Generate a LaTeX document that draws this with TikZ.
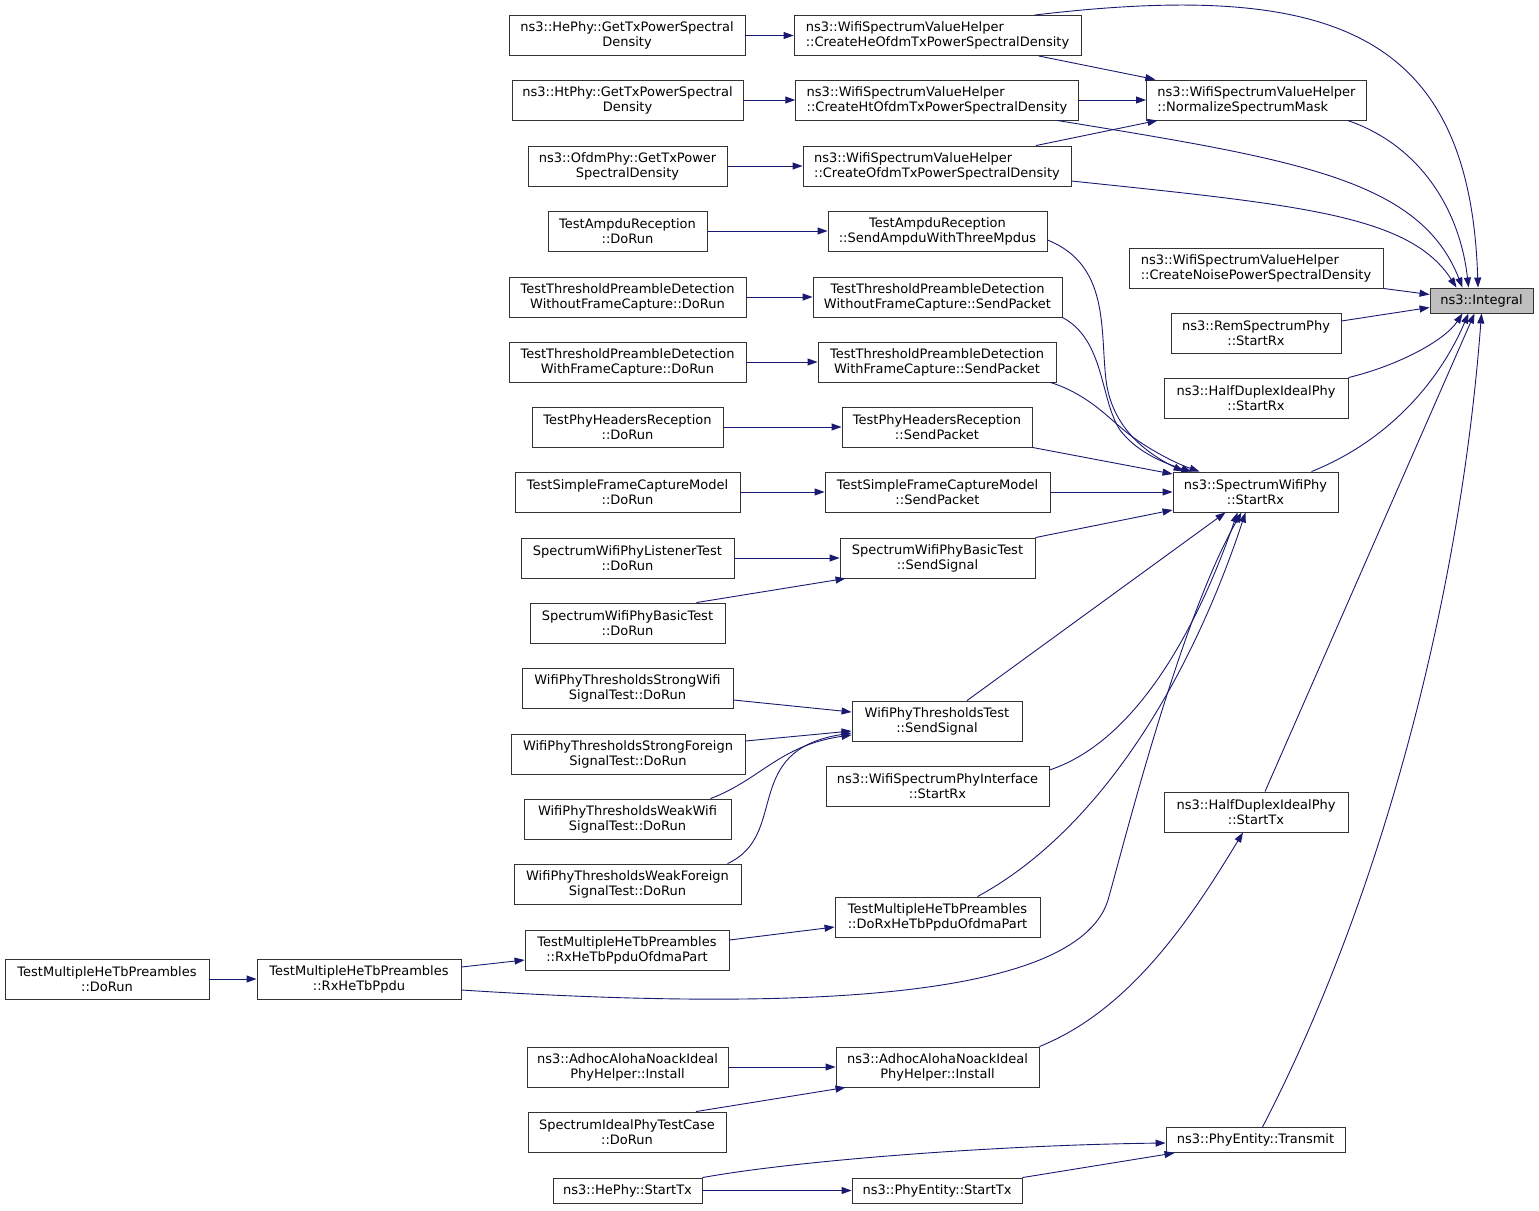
\documentclass[tikz,border=0pt]{standalone}
\usepackage{fontspec}
\setmainfont{DejaVu Sans}
\usetikzlibrary{arrows.meta}
\definecolor{callblue}{HTML}{191970}
\tikzstyle{fnbox} = [draw=black!80, fill=white, line width=0.9pt, rectangle,
    align=center, inner xsep=4pt, inner ysep=2pt, minimum height=40pt,
    font=\fontsize{13}{15}\selectfont]
\tikzstyle{fnboxl} = [fnbox, align=left, inner xsep=11pt]
\tikzstyle{fnone} = [fnbox, minimum height=25pt]
\tikzstyle{rootbox} = [fnone, fill=black!25]
\tikzstyle{call} = [callblue, line width=0.9pt, -{Triangle[length=10pt,width=7pt]}]

\begin{document}
\begin{tikzpicture}[x=1pt, y=1pt]
\useasboundingbox (0,0) rectangle (1539,-1210);
% callee
\node[rootbox, minimum width=103pt] (integral) at (1481.5,-300.5) {ns3::Integral};
% direct callers
\node[fnboxl, minimum width=219pt] (norm) at (1256.5,-100) {ns3::WifiSpectrumValueHelper\\::NormalizeSpectrumMask};
\node[fnboxl, minimum width=254pt] (noise) at (1256,-268) {ns3::WifiSpectrumValueHelper\\::CreateNoisePowerSpectralDensity};
\node[fnbox, minimum width=170pt] (remRx) at (1256,-333) {ns3::RemSpectrumPhy\\::StartRx};
\node[fnbox, minimum width=184pt] (hdipRx) at (1256,-398) {ns3::HalfDuplexIdealPhy\\::StartRx};
\node[fnbox, minimum width=165pt] (swpRx) at (1255.5,-492) {ns3::SpectrumWifiPhy\\::StartRx};
\node[fnbox, minimum width=184pt] (hdipTx) at (1256,-812) {ns3::HalfDuplexIdealPhy\\::StartTx};
\node[fnone, minimum width=179pt] (peTransmit) at (1255.5,-1140) {ns3::PhyEntity::Transmit};
% second level
\node[fnboxl, minimum width=287pt] (cheo) at (937.5,-35.5) {ns3::WifiSpectrumValueHelper\\::CreateHeOfdmTxPowerSpectralDensity};
\node[fnboxl, minimum width=282pt] (chto) at (937,-100) {ns3::WifiSpectrumValueHelper\\::CreateHtOfdmTxPowerSpectralDensity};
\node[fnboxl, minimum width=268pt] (cofdm) at (937,-166) {ns3::WifiSpectrumValueHelper\\::CreateOfdmTxPowerSpectralDensity};
\node[fnbox, minimum width=219pt] (tarSend) at (937.5,-231) {TestAmpduReception\\::SendAmpduWithThreeMpdus};
\node[fnbox, minimum width=249pt] (tpdWoSend) at (937.5,-297) {TestThresholdPreambleDetection\\WithoutFrameCapture::SendPacket};
\node[fnbox, minimum width=238pt] (tpdWSend) at (937,-362) {TestThresholdPreambleDetection\\WithFrameCapture::SendPacket};
\node[fnbox, minimum width=190pt] (thrSend) at (937,-427) {TestPhyHeadersReception\\::SendPacket};
\node[fnbox, minimum width=225pt] (tsfcSend) at (937.5,-492) {TestSimpleFrameCaptureModel\\::SendPacket};
\node[fnbox, minimum width=195pt] (swpbSend) at (937.5,-558) {SpectrumWifiPhyBasicTest\\::SendSignal};
\node[fnbox, minimum width=170pt] (wptSend) at (937,-721) {WifiPhyThresholdsTest\\::SendSignal};
\node[fnbox, minimum width=223pt] (wspiRx) at (937.5,-786) {ns3::WifiSpectrumPhyInterface\\::StartRx};
\node[fnbox, minimum width=205pt] (tmhpDoRxOfdma) at (937.5,-917) {TestMultipleHeTbPreambles\\::DoRxHeTbPpduOfdmaPart};
\node[fnbox, minimum width=203pt] (adhocB) at (937.5,-1067) {ns3::AdhocAlohaNoackIdeal\\PhyHelper::Install};
\node[fnone, minimum width=170pt] (peStartTx) at (937,-1190.5) {ns3::PhyEntity::StartTx};
% third level
\node[fnbox, minimum width=236pt] (hephyGtx) at (627,-35.5) {ns3::HePhy::GetTxPowerSpectral\\Density};
\node[fnbox, minimum width=231pt] (htphyGtx) at (627.5,-100) {ns3::HtPhy::GetTxPowerSpectral\\Density};
\node[fnbox, minimum width=199pt] (ofdmGtx) at (627.5,-166) {ns3::OfdmPhy::GetTxPower\\SpectralDensity};
\node[fnbox, minimum width=159pt] (tarDoRun) at (627.5,-231) {TestAmpduReception\\::DoRun};
\node[fnbox, minimum width=237pt] (tpdWoDoRun) at (627.5,-297) {TestThresholdPreambleDetection\\WithoutFrameCapture::DoRun};
\node[fnbox, minimum width=237pt] (tpdWDoRun) at (627.5,-362) {TestThresholdPreambleDetection\\WithFrameCapture::DoRun};
\node[fnbox, minimum width=191pt] (thrDoRun) at (627.5,-427) {TestPhyHeadersReception\\::DoRun};
\node[fnbox, minimum width=225pt] (tsfcDoRun) at (627.5,-492) {TestSimpleFrameCaptureModel\\::DoRun};
\node[fnbox, minimum width=213pt] (swplDoRun) at (627.5,-558) {SpectrumWifiPhyListenerTest\\::DoRun};
\node[fnbox, minimum width=195pt] (swpbDoRun) at (627.5,-623) {SpectrumWifiPhyBasicTest\\::DoRun};
\node[fnbox, minimum width=211pt] (wptSw) at (627.5,-688) {WifiPhyThresholdsStrongWifi\\SignalTest::DoRun};
\node[fnbox, minimum width=234pt] (wptSf) at (628,-754) {WifiPhyThresholdsStrongForeign\\SignalTest::DoRun};
\node[fnbox, minimum width=207pt] (wptWw) at (627.5,-819) {WifiPhyThresholdsWeakWifi\\SignalTest::DoRun};
\node[fnbox, minimum width=227pt] (wptWf) at (627.5,-884) {WifiPhyThresholdsWeakForeign\\SignalTest::DoRun};
\node[fnbox, minimum width=204pt] (tmhpRxOfdma) at (627,-950) {TestMultipleHeTbPreambles\\::RxHeTbPpduOfdmaPart};
\node[fnbox, minimum width=201pt] (adhocA) at (627.5,-1067) {ns3::AdhocAlohaNoackIdeal\\PhyHelper::Install};
\node[fnbox, minimum width=198pt] (siptDoRun) at (627,-1132) {SpectrumIdealPhyTestCase\\::DoRun};
\node[fnone, minimum width=149pt] (hephyStartTx) at (627.5,-1190.5) {ns3::HePhy::StartTx};
% far left
\node[fnbox, minimum width=204pt] (tmhpRx) at (359,-979) {TestMultipleHeTbPreambles\\::RxHeTbPpdu};
\node[fnbox, minimum width=204pt] (tmhpDoRun) at (107,-979) {TestMultipleHeTbPreambles\\::DoRun};

% calls into ns3::Integral
\draw[call] ([xshift=97pt]cheo.north) .. controls (1330,20) and (1470,-30) .. ([xshift=-3.5pt]integral.north);
\draw[call] ([xshift=91pt]norm.south) .. controls (1420,-145) and (1460,-210) .. ([xshift=-13pt]integral.north);
\draw[call] ([xshift=120pt]chto.south) .. controls (1300,-160) and (1420,-180) .. ([xshift=-19pt]integral.north);
\draw[call] ([yshift=-15pt]cofdm.east) .. controls (1300,-205) and (1410,-215) .. ([xshift=-25pt]integral.north);
\draw[call] (noise.south east) -- ([yshift=6pt]integral.west);
\draw[call] ([yshift=12pt]remRx.east) -- ([yshift=-7pt]integral.west);
\draw[call] (hdipRx.north east) .. controls (1400,-365) and (1445,-340) .. ([xshift=-19pt]integral.south);
\draw[call] ([xshift=56pt]swpRx.north) .. controls (1390,-440) and (1440,-380) .. ([xshift=-13pt]integral.south);
\draw[call] ([xshift=9pt]hdipTx.north) -- ([xshift=-7pt]integral.south);
\draw[call] ([xshift=7pt]peTransmit.north) .. controls (1380,-900) and (1460,-600) .. (integral.south);

% calls into NormalizeSpectrumMask
\draw[call] (cheo) -- (norm);
\draw[call] (chto) -- (norm);
\draw[call] (cofdm) -- (norm);

% calls into SpectrumWifiPhy::StartRx
\draw[call] ([yshift=-9pt]tarSend.east) .. controls (1110,-265) and (1100,-330) .. (1106,-380)
    .. controls (1112,-430) and (1150,-455) .. ([xshift=-72pt]swpRx.north);
\draw[call] (tpdWoSend.south east) .. controls (1105,-340) and (1100,-400) .. (1120,-430)
    .. controls (1135,-450) and (1160,-462) .. ([xshift=-64pt]swpRx.north);
\draw[call] ([xshift=-6pt]tpdWSend.south east) .. controls (1090,-395) and (1110,-420) .. (1130,-435)
    .. controls (1150,-450) and (1175,-463) .. ([xshift=-56pt]swpRx.north);
\draw[call] (thrSend.south east) -- ([yshift=18pt]swpRx.west);
\draw[call] (tsfcSend) -- (swpRx);
\draw[call] (swpbSend.north east) -- ([yshift=-18pt]swpRx.west);
\draw[call] ([xshift=30pt]wptSend.north) -- ([xshift=-30pt]swpRx.south);
\draw[call] ([yshift=16pt]wspiRx.east) .. controls (1140,-740) and (1200,-620) .. ([xshift=-18pt]swpRx.south);
\draw[call] ([xshift=40pt]tmhpDoRxOfdma.north) .. controls (1100,-830) and (1190,-680) .. ([xshift=-10pt]swpRx.south);
\draw[call] ([yshift=-11pt]tmhpRx.east) .. controls (850,-1015) and (1080,-990) .. (1108,-900)
    .. controls (1125,-840) and (1180,-620) .. ([xshift=-14pt]swpRx.south);

% test callers
\draw[call] (hephyGtx) -- (cheo);
\draw[call] (htphyGtx) -- (chto);
\draw[call] (ofdmGtx) -- (cofdm);
\draw[call] (tarDoRun) -- (tarSend);
\draw[call] (tpdWoDoRun) -- (tpdWoSend);
\draw[call] (tpdWDoRun) -- (tpdWSend);
\draw[call] (thrDoRun) -- (thrSend);
\draw[call] (tsfcDoRun) -- (tsfcSend);
\draw[call] (swplDoRun) -- (swpbSend);
\draw[call] ([xshift=69pt]swpbDoRun.north) -- ([xshift=-92pt]swpbSend.south);
\draw[call] ([yshift=-12pt]wptSw.east) -- ([yshift=9pt]wptSend.west);
\draw[call] ([yshift=13pt]wptSf.east) -- ([yshift=-10pt]wptSend.west);
\draw[call] ([xshift=83pt]wptWw.north) .. controls (760,-780) and (780,-745) .. ([yshift=-14pt]wptSend.west);
\draw[call] ([xshift=100pt]wptWf.north) .. controls (790,-835) and (740,-750) .. ([yshift=-12pt]wptSend.west);
\draw[call] (tmhpDoRun) -- (tmhpRx);
\draw[call] ([yshift=12pt]tmhpRx.east) -- ([yshift=-10pt]tmhpRxOfdma.west);
\draw[call] ([yshift=10pt]tmhpRxOfdma.east) -- ([yshift=-10pt]tmhpDoRxOfdma.west);
\draw[call] (adhocA) -- (adhocB);
\draw[call] ([xshift=69pt]siptDoRun.north) -- ([xshift=-92pt]adhocB.south);
\draw[call] (adhocB.north east) .. controls (1130,-1010) and (1190,-920) .. ([xshift=-13pt]hdipTx.south);
\draw[call] (hephyStartTx) -- (peStartTx);
\draw[call] (hephyStartTx.north east) .. controls (800,-1160) and (1000,-1145) .. ([yshift=-3pt]peTransmit.west);
\draw[call] (peStartTx.north east) -- ([xshift=-81pt]peTransmit.south);
\end{tikzpicture}
\end{document}
